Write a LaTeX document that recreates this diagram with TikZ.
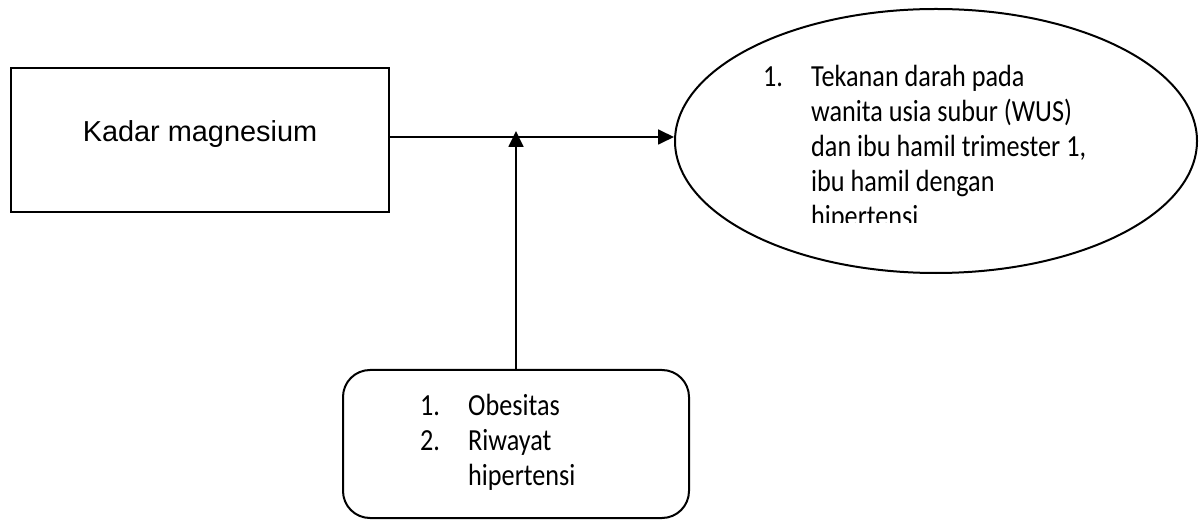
\documentclass[tikz,border=0pt]{standalone}
\usepackage{fontspec}
\setmainfont{Carlito}
\newfontfamily\arialf{Liberation Sans}
\usetikzlibrary{arrows.meta,shapes.geometric}
\newcommand{\tall}[1]{\scalebox{1}[1.17]{#1}}
\begin{document}
\begin{tikzpicture}[x=1bp,y=-1bp,
  cal/.style={font=\fontsize{26.3}{32}\selectfont, anchor=base west, inner sep=0},
  arr/.style={line width=1.8bp,-{Triangle[length=16bp,width=15bp]}}]
\useasboundingbox (0,0) rectangle (1199,520);
\node[draw, line width=2.7bp, minimum width=378bp, minimum height=144bp, inner sep=0] (kadar) at (200,140) {};
\node[font=\arialf\fontsize{29}{34}\selectfont, anchor=base, inner sep=0] (kt) at (200,142) {Kadar magnesium};
\node[draw, ellipse, line width=2bp, minimum width=522bp, minimum height=264bp, inner sep=0] (ell) at (936,141) {};
\begin{scope}
  \clip (700,40) rectangle (1190,223);
  \node[cal] (e0) at (763,87) {\tall{1.}};
  \node[cal] (e1) at (811,87) {\tall{Tekanan darah pada}};
  \node[cal] (e2) at (811,122) {\tall{wanita usia subur (WUS)}};
  \node[cal] (e3) at (811,157) {\tall{dan ibu hamil trimester 1,}};
  \node[cal] (e4) at (811,192) {\tall{ibu hamil dengan}};
  \node[cal] (e5) at (811,227) {\tall{hipertensi}};
\end{scope}
\node[draw, rounded corners=27bp, line width=2bp, minimum width=346bp, minimum height=148bp, inner sep=0] (rb) at (516,444) {};
\node[cal] (r0) at (420,415) {\tall{1.}};
\node[cal] (r1) at (468,415) {\tall{Obesitas}};
\node[cal] (r2) at (420,450) {\tall{2.}};
\node[cal] (r3) at (468,450) {\tall{Riwayat}};
\node[cal] (r4) at (468,485) {\tall{hipertensi}};
\draw[arr] (kadar.east |- 0,137) -- (ell.west |- 0,137);
\draw[arr] (rb.north) -- (rb.north |- 0,131);
\end{tikzpicture}
\end{document}
